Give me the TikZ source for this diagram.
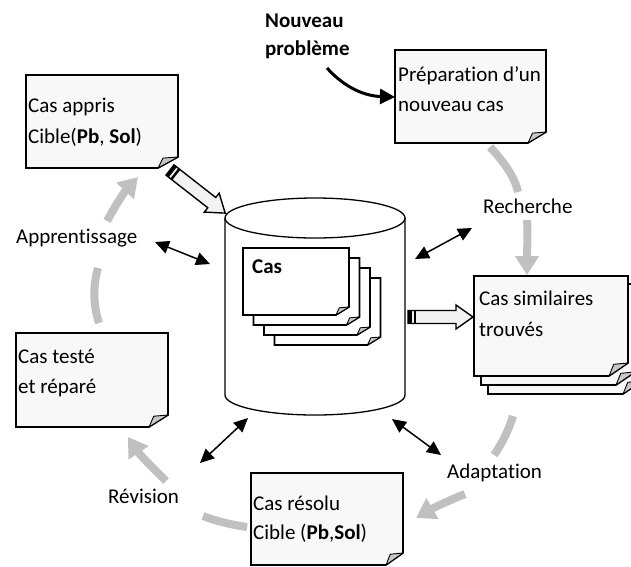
\documentclass[tikz,border=0pt]{standalone}
\usepackage{fontspec}
\setmainfont{Carlito}[Ligatures=NoCommon]
\usetikzlibrary{arrows.meta}
\definecolor{pagefill}{RGB}{248,248,248}
\definecolor{foldgray}{RGB}{200,200,200}
\definecolor{arrowgray}{RGB}{192,192,192}
\definecolor{shaftfill}{RGB}{242,242,242}
\newcommand\lblfont{\fontsize{21}{25}\selectfont}
% \mypage[style]{name}{x1}{y1}{x2}{y2}{fx}{fy}
\newcommand\mypage[8][]{%
  \draw[page,#1] (#3,#4) -- (#5,#4) -- (#5,#6-#8) -- (#5-#7,#6) -- (#3,#6) -- cycle;
  \draw[fold] (#5,#6-#8) -- (#5-#7,#6) -- (#5-0.75*#7,#6-0.9*#8) -- cycle;
  \node[inner sep=0pt,minimum width={(#5-#3)*1pt},minimum height={(#6-#4)*1pt}] (#2) at ({(#3+#5)/2},{(#4+#6)/2}) {};
}
\tikzset{
  page/.style={draw=black, line width=1.6pt, fill=pagefill, line join=miter},
  fold/.style={draw=black, line width=0.9pt, fill=foldgray, line join=round},
  grayline/.style={draw=arrowgray, line width=8pt},
  grayarrow/.style={draw=arrowgray, line width=8pt, -{Triangle[width=23pt,length=19pt]}},
  dblarrow/.style={line width=1.5pt, {Triangle[width=13pt,length=14pt]}-{Triangle[width=13pt,length=14pt]}},
  lbl/.style={font=\lblfont, inner sep=0pt, anchor=base west},
  blockarrow/.pic={
    \draw[line width=1.4pt, fill=shaftfill, line join=miter]
      (0,-6.5) -- (#1-17,-6.5) -- (#1-17,-12) -- (#1,0) -- (#1-17,12) -- (#1-17,6.5) -- (0,6.5) -- cycle;
    \fill[black] (0,-6.5) rectangle (3.5,6.5);
    \fill[black] (5.5,-6.5) rectangle (8,6.5);
  }
}
\begin{document}
\begin{tikzpicture}[x=1pt,y=-1pt]
\useasboundingbox (0,0) rectangle (631,566);
\clip (0,0) rectangle (631,566);

% cylinder
\draw[line width=1.3pt, fill=white] (225,218) -- (225,395)
  .. controls (225,406) and (265,415) .. (315,415)
  .. controls (365,415) and (405,406) .. (405,395) -- (405,218);
\draw[line width=1.3pt, fill=white] (315,218) ellipse [x radius=90, y radius=20];
\coordinate (cyl) at (315,305);

% stack of Cas pages
\mypage[fill=white]{cas4}{274.5}{278}{380.5}{345}{13}{8}
\mypage[fill=white]{cas3}{264}{268}{370}{335}{13}{8}
\mypage[fill=white]{cas2}{253.5}{258}{359.5}{325}{13}{8}
\mypage[fill=white]{cas1}{243}{248}{349}{315}{13}{8}
\node[lbl] (tcas) at (252,273) {\textbf{Cas}};

% boxes
\mypage{appris}{26}{75}{178}{168}{20}{11}
\node[lbl] (tappris1) at (28,112) {Cas appris};
\node[lbl] (tappris2) at (28,143) {Cible(\textbf{Pb}, \textbf{Sol})};

\mypage{prep}{395}{50}{546}{143}{18}{11}
\node[lbl] (tprep1) at (398,81) {Préparation d’un};
\node[lbl] (tprep2) at (398,111) {nouveau cas};

\mypage{sim3}{488}{293}{642}{394}{19}{13}
\mypage{sim2}{481}{284}{635}{385}{19}{13}
\mypage{sim1}{474}{276}{628}{376}{19}{13}
\node[lbl] (tsim1) at (479,305) {Cas similaires};
\node[lbl] (tsim2) at (479,336) {trouvés};

\mypage{teste}{16}{333}{168}{427}{19}{12}
\node[lbl] (tteste1) at (18,363) {Cas testé};
\node[lbl] (tteste2) at (18,393) {et réparé};

\mypage{resolu}{251}{473}{403}{565}{17}{12}
\node[lbl] (tresolu1) at (253,510) {Cas résolu};
\node[lbl] (tresolu2) at (253,539) {Cible (\textbf{Pb},\textbf{Sol})};

% new problem
\node[lbl] (nouv1) at (265,27) {\textbf{Nouveau}};
\node[lbl] (nouv2) at (265,55) {\textbf{problème}};
\coordinate (np0) at (327,68);
\coordinate (np1) at (395,97);
\draw[line width=3pt, -{Triangle[width=15pt,length=15pt]}] (np0) .. controls (345,88) and (365,96) .. (np1);

% step labels
\node[lbl] (lrech) at (483,213) {Recherche};
\node[lbl] (lappr) at (16,243) {Apprentissage};
\node[lbl] (ladapt) at (447,478) {Adaptation};
\node[lbl] (lrev) at (108,503) {Révision};

% gray cycle arrows
\coordinate (g1a) at (490,147); \coordinate (g1b) at (518,192);
\draw[grayline] (g1a) .. controls (505,163) and (515,178) .. (g1b);
\coordinate (g2a) at (527,220); \coordinate (g2b) at (527,275);
\draw[grayarrow] (g2a) .. controls (528,235) and (527,250) .. (g2b);
\coordinate (g3a) at (513,416); \coordinate (g3b) at (494,455);
\draw[grayline] (g3a) .. controls (508,432) and (501,445) .. (g3b);
\coordinate (g4a) at (465,494); \coordinate (g4b) at (416,518);
\draw[grayarrow] (g4a) .. controls (450,500) and (435,507) .. (g4b);
\coordinate (g5a) at (247,527); \coordinate (g5b) at (203,516);
\draw[grayline] (g5a) .. controls (232,525) and (216,521) .. (g5b);
\coordinate (g6a) at (166,481); \coordinate (g6b) at (128,437);
\draw[grayarrow] (g6a) .. controls (152,467) and (140,455) .. (g6b);
\coordinate (g7a) at (99,323); \coordinate (g7b) at (98,268);
\draw[grayline] (g7a) .. controls (93,305) and (93,285) .. (g7b);
\coordinate (g8a) at (107,221); \coordinate (g8b) at (138,177);
\draw[grayarrow] (g8a) .. controls (115,206) and (125,191) .. (g8b);

% double arrows
\coordinate (d1a) at (155,242); \coordinate (d1b) at (210,264);
\draw[dblarrow] (d1a) -- (d1b);
\coordinate (d2a) at (415,259); \coordinate (d2b) at (472,228);
\draw[dblarrow] (d2a) -- (d2b);
\coordinate (d3a) at (392,419); \coordinate (d3b) at (441,455);
\draw[dblarrow] (d3a) -- (d3b);
\coordinate (d4a) at (200,463); \coordinate (d4b) at (248,418);
\draw[dblarrow] (d4a) -- (d4b);

% block arrows
\coordinate (b1) at (170,170);
\pic[rotate=-38] at (b1) {blockarrow=70};
\coordinate (b2) at (408,317);
\pic at (b2) {blockarrow=65};
\end{tikzpicture}
\end{document}
